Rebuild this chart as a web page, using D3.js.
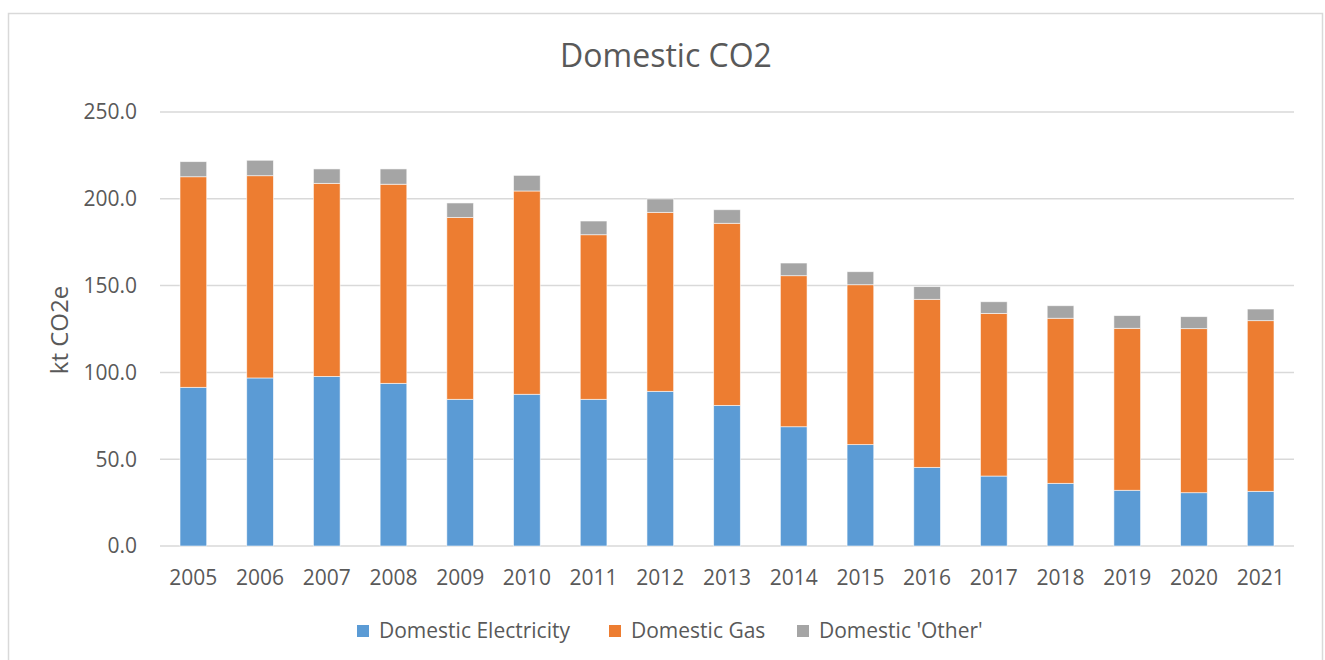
<!DOCTYPE html>
<html>
<head>
<meta charset="utf-8">
<script src="https://cdn.jsdelivr.net/npm/d3@7"></script>
<style>
  html, body { margin: 0; padding: 0; background: #ffffff; }
  svg { display: block; }
  text { font-family: "Open Sans", "Noto Sans", sans-serif; fill: #595959; }
</style>
</head>
<body>
<svg id="chart" width="1325" height="660"></svg>
<script>
const years = ["2005","2006","2007","2008","2009","2010","2011","2012","2013","2014","2015","2016","2017","2018","2019","2020","2021"];
const electricity = [91.4, 96.8, 97.7, 93.7, 84.5, 87.4, 84.5, 89.1, 81.0, 68.7, 58.4, 45.3, 40.3, 36.1, 32.1, 30.7, 31.5];
const gas = [121.3, 116.5, 111.2, 114.7, 104.8, 117.1, 94.8, 103.1, 104.9, 87.0, 92.1, 96.8, 93.7, 95.1, 93.3, 94.5, 98.3];
const other = [8.7, 8.9, 8.3, 8.8, 8.3, 9.0, 7.9, 7.7, 7.8, 7.3, 7.5, 7.3, 6.7, 7.2, 7.3, 6.9, 6.7];
const seriesNames = ["Domestic Electricity", "Domestic Gas", "Domestic 'Other'"];
const seriesColors = ["#5B9BD5", "#ED7D31", "#A5A5A5"];
const yTicks = [0, 50, 100, 150, 200, 250];
const title = "Domestic CO2";
const yTitle = "kt CO2e";

const svg = d3.select("#chart");

// chart border
svg.append("rect")
  .attr("x", 8.5).attr("y", 13.5)
  .attr("width", 1314).attr("height", 700)
  .attr("fill", "none").attr("stroke", "#d9d9d9").attr("stroke-width", 1.5);

const plot = { left: 160, right: 1294, top: 112, bottom: 546 };

const x = d3.scaleBand().domain(years).range([plot.left, plot.right]).paddingInner(0.6).paddingOuter(0.3);
const y = d3.scaleLinear().domain([0, 250]).range([plot.bottom, plot.top]);

// gridlines
svg.append("g").selectAll("line").data(yTicks).join("line")
  .attr("x1", plot.left).attr("x2", plot.right)
  .attr("y1", d => y(d)).attr("y2", d => y(d))
  .attr("stroke", "#d9d9d9").attr("stroke-width", 1.5);

// stacked data
const rows = years.map((yr, i) => ({ year: yr, e: electricity[i], g: gas[i], o: other[i] }));
const stack = d3.stack().keys(["e", "g", "o"])(rows);

svg.append("g").selectAll("g").data(stack).join("g")
  .attr("fill", (d, i) => seriesColors[i])
  .selectAll("rect").data(d => d).join("rect")
  .attr("x", d => x(d.data.year))
  .attr("width", x.bandwidth())
  .attr("y", d => y(d[1]))
  .attr("height", d => y(d[0]) - y(d[1]))
  .attr("stroke", "#ffffff").attr("stroke-width", 0.8).attr("stroke-opacity", 0.7);

// y tick labels
svg.append("g").selectAll("text").data(yTicks).join("text")
  .attr("x", 137).attr("y", d => y(d))
  .attr("dy", "0.35em")
  .attr("text-anchor", "end")
  .attr("font-size", 21)
  .text(d => d.toFixed(1));

// x tick labels
svg.append("g").selectAll("text").data(years).join("text")
  .attr("x", d => x(d) + x.bandwidth() / 2).attr("y", 585)
  .attr("text-anchor", "middle")
  .attr("font-size", 21)
  .text(d => d);

// title
svg.append("text")
  .attr("x", 666).attr("y", 67)
  .attr("text-anchor", "middle")
  .attr("font-size", 32)
  .text(title);

// y axis title
svg.append("text")
  .attr("transform", "translate(68,330) rotate(-90)")
  .attr("text-anchor", "middle")
  .attr("font-size", 24)
  .text(yTitle);

// legend
const legendX = [357, 609, 797];
const lg = svg.append("g").selectAll("g").data(seriesNames).join("g")
  .attr("transform", (d, i) => `translate(${legendX[i]},631)`);
lg.append("rect").attr("x", 0).attr("y", -6).attr("width", 12).attr("height", 12)
  .attr("fill", (d, i) => seriesColors[i]);
lg.append("text").attr("x", 22).attr("y", 0).attr("dy", "0.35em")
  .attr("font-size", 21)
  .text(d => d);
</script>
</body>
</html>
